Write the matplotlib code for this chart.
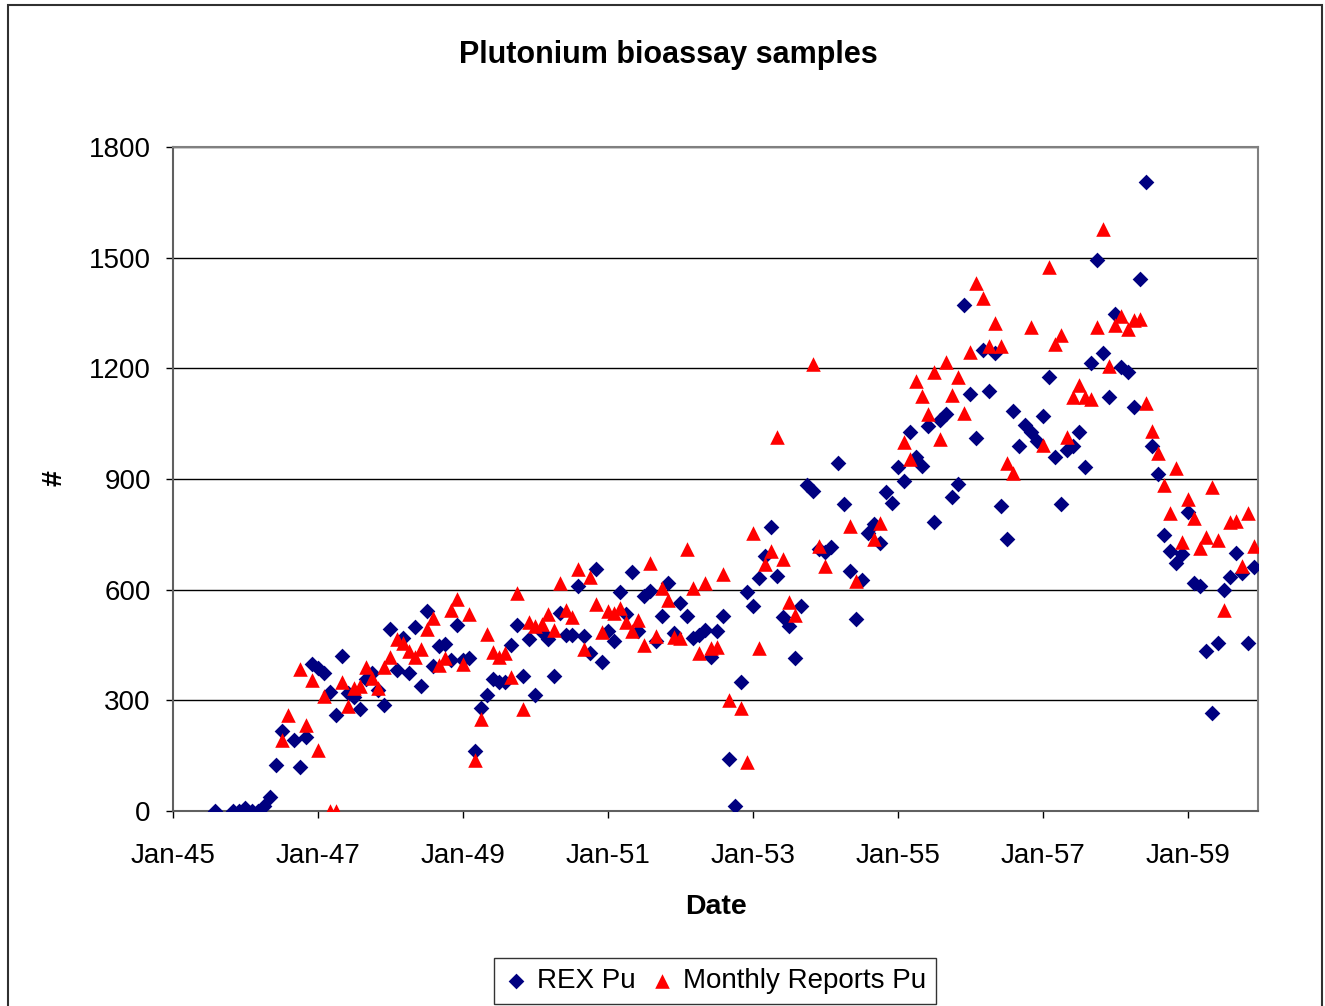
import matplotlib
matplotlib.use("Agg")
import matplotlib.pyplot as plt
from matplotlib.patches import Rectangle

plt.rcParams['font.family'] = ['Liberation Sans', 'DejaVu Sans']

# months counted from Jan 1945
rex_months = [7, 10, 11, 12, 13, 14, 15, 16, 17, 18, 20, 21, 22, 23, 24, 25, 26, 27, 28, 29,
              30, 31, 32, 33, 34, 35, 36, 37, 38, 39, 40, 41, 42, 43, 44, 45, 46, 47, 48, 49,
              50, 51, 52, 53, 54, 55, 56, 57, 58, 59, 60, 61, 62, 63, 64, 65, 66, 67, 68, 69,
              70, 71, 72, 73, 74, 75, 76, 77, 78, 79, 80, 81, 82, 83, 84, 85, 86, 87, 88, 89,
              90, 91, 92, 93, 94, 95, 96, 97, 98, 99, 100, 101, 102, 103, 104, 105, 106, 107, 108, 109,
              110, 111, 112, 113, 114, 115, 116, 117, 118, 119, 120, 121, 122, 123, 124, 125, 126, 127, 128, 129,
              130, 131, 132, 133, 134, 135, 136, 137, 138, 139, 140, 141, 142, 143, 144, 145, 146, 147, 148, 149,
              150, 151, 152, 153, 154, 155, 156, 157, 158, 159, 160, 161, 162, 163, 164, 165, 166, 167, 168, 169,
              170, 171, 172, 173, 174, 175, 176, 177, 178, 179]
rex_pu = [0, 0, 0, 8, 0, 0, 14, 38, 124, 217, 192, 119, 200, 398, 388, 374, 323, 260, 420, 320,
          309, 277, 358, 374, 328, 287, 493, 382, 469, 374, 499, 339, 542, 393, 447, 453, 409, 504, 409, 415,
          163, 279, 314, 358, 350, 350, 450, 504, 366, 466, 314, 485, 466, 366, 537, 477, 477, 610, 474, 428,
          656, 404, 488, 461, 594, 534, 648, 488, 583, 596, 461, 529, 618, 483, 564, 529, 469, 477, 491, 418,
          488, 529, 141, 14, 350, 594, 556, 632, 691, 770, 637, 526, 502, 415, 556, 884, 868, 710, 702, 716,
          943, 832, 651, 520, 626, 754, 778, 727, 865, 835, 933, 895, 1027, 960, 935, 1044, 783, 1060, 1076, 851,
          886, 1372, 1131, 1011, 1250, 1139, 1242, 827, 737, 1084, 990, 1046, 1027, 1003, 1071, 1177, 960, 832, 979, 990,
          1027, 933, 1215, 1494, 1242, 1122, 1347, 1204, 1190, 1095, 1442, 1705, 990, 914, 748, 705, 672, 697, 811, 618,
          610, 434, 266, 455, 599, 634, 699, 645, 455, 661]

monthly_months = [18, 19, 21, 22, 23, 24, 25, 26, 27, 28, 29, 30, 31, 32, 33, 34, 35, 36, 37, 38,
                  39, 40, 41, 42, 43, 44, 45, 46, 47, 48, 49, 50, 51, 52, 53, 54, 55, 56, 57, 58,
                  59, 60, 61, 62, 63, 64, 65, 66, 67, 68, 69, 70, 71, 72, 73, 74, 75, 76, 77, 78,
                  79, 80, 81, 82, 83, 84, 85, 86, 87, 88, 89, 90, 91, 92, 94, 95, 96, 97, 98, 99,
                  100, 101, 102, 103, 106, 107, 108, 112, 113, 116, 117, 121, 122, 123, 124, 125, 126, 127, 128, 129,
                  130, 131, 132, 133, 134, 135, 136, 137, 138, 139, 142, 144, 145, 146, 147, 148, 149, 150, 151, 152,
                  153, 154, 155, 156, 157, 158, 159, 160, 161, 162, 163, 164, 165, 166, 167, 168, 169, 170, 171, 172,
                  173, 174, 175, 176, 177, 178, 179]
monthly_pu = [193, 260, 385, 233, 355, 165, 312, 0, 0, 350, 285, 333, 339, 390, 361, 333, 390, 418, 466, 455,
              434, 418, 439, 493, 523, 396, 415, 545, 575, 398, 534, 138, 249, 480, 431, 418, 428, 363, 591, 277,
              512, 501, 507, 534, 491, 618, 545, 526, 656, 439, 634, 561, 485, 542, 537, 550, 512, 488, 518, 450,
              672, 474, 605, 572, 472, 469, 710, 605, 428, 618, 442, 445, 642, 301, 279, 133, 754, 442, 670, 705,
              1014, 683, 567, 531, 1212, 718, 664, 773, 624, 737, 781, 1000, 954, 1166, 1125, 1076, 1190, 1008, 1217, 1128,
              1177, 1079, 1244, 1431, 1391, 1261, 1323, 1261, 943, 916, 1312, 992, 1475, 1266, 1290, 1014, 1122, 1155, 1122, 1117,
              1312, 1578, 1206, 1318, 1342, 1307, 1331, 1334, 1106, 1030, 971, 884, 808, 930, 729, 846, 794, 713, 743, 878,
              735, 545, 783, 786, 664, 808, 718]

tick_months = [0, 24, 48, 72, 96, 120, 144, 168]
tick_labels = ['Jan-45', 'Jan-47', 'Jan-49', 'Jan-51', 'Jan-53', 'Jan-55', 'Jan-57', 'Jan-59']

fig = plt.figure(figsize=(13.25, 10.06), dpi=100)
ax = fig.add_axes([173 / 1325, 1 - 811 / 1006, 1085 / 1325, 664 / 1006])

# outer chart border
fig.patches.append(Rectangle((8 / 1325, -0.01), 1314 / 1325, 1 - 5 / 1006 + 0.01,
                             transform=fig.transFigure, fill=False, edgecolor='#303030', linewidth=1.5))

ax.scatter(rex_months, rex_pu, marker='D', s=64, color='#000080', linewidths=0, label='REX Pu', zorder=3)
ax.scatter(monthly_months, monthly_pu, marker='^', s=110, color='#FF0000', linewidths=0,
           label='Monthly Reports Pu', zorder=4)

ax.set_xlim(0, 179.6)
ax.set_ylim(0, 1800)
ax.set_yticks(range(0, 1801, 300))
ax.set_xticks(tick_months)
ax.set_xticklabels(tick_labels)
ax.yaxis.grid(True, color='black', linewidth=1)
ax.set_axisbelow(True)
ax.tick_params(axis='both', direction='out', length=5, width=1, labelsize=20, colors='black')
ax.tick_params(axis='x', pad=18)
ax.tick_params(axis='y', pad=11)
for side in ['top', 'right']:
    ax.spines[side].set_color('#808080')
    ax.spines[side].set_linewidth(1.5)
for side in ['left', 'bottom']:
    ax.spines[side].set_color('#606060')
    ax.spines[side].set_linewidth(1.5)

fig.text(668 / 1325, 1 - 55 / 1006, 'Plutonium bioassay samples', ha='center', va='center',
         fontsize=22, fontweight='bold')
fig.text(716 / 1325, 1 - 907 / 1006, 'Date', ha='center', va='center', fontsize=20.5, fontweight='bold')
fig.text(55 / 1325, 1 - 478 / 1006, '#', ha='center', va='center', rotation=90,
         fontsize=20.5, fontweight='bold')

leg = fig.legend(loc='center', bbox_to_anchor=(715 / 1325, 1 - 981 / 1006), ncol=2, fontsize=20,
                 frameon=True, fancybox=False, edgecolor='black', handletextpad=0.3, columnspacing=0.5,
                 borderpad=0.35, handlelength=0.9)
leg.get_frame().set_linewidth(1)
leg.legend_handles[0].set_sizes([64])
leg.legend_handles[1].set_sizes([110])

fig.savefig('out.png', dpi=100)
